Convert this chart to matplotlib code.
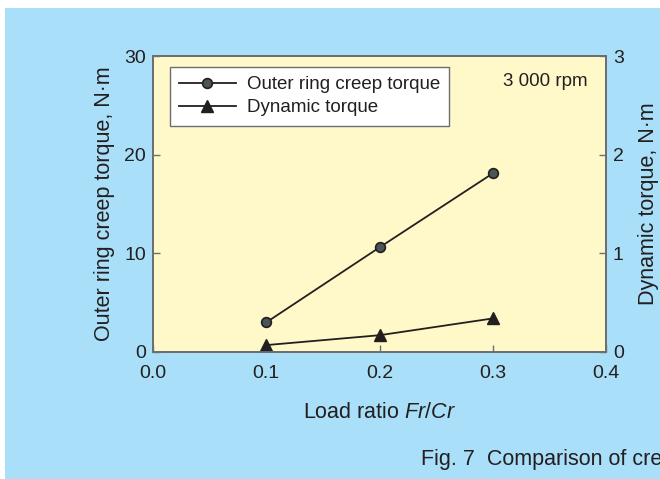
import matplotlib
matplotlib.use('Agg')
import matplotlib.pyplot as plt
from matplotlib.patches import Rectangle

plt.rcParams['font.family'] = ['Liberation Sans', 'DejaVu Sans']
plt.rcParams['mathtext.fontset'] = 'custom'
plt.rcParams['mathtext.rm'] = 'Liberation Sans'
plt.rcParams['mathtext.it'] = 'Liberation Sans:italic'

# Data
load_ratio = [0.1, 0.2, 0.3]
creep_torque = [3.0, 10.6, 18.1]      # N·m, left axis
dynamic_torque = [0.07, 0.17, 0.34]   # N·m, right axis

x_ticks = [0.0, 0.1, 0.2, 0.3, 0.4]
left_ticks = [0, 10, 20, 30]
right_ticks = [0, 1, 2, 3]

BLUE = '#a9dff9'
YELLOW = '#fff9c9'
TEXT = '#231f20'
SPINE = '#6d6e71'

fig = plt.figure(figsize=(6.6, 4.79), dpi=100)
fig.patch.set_facecolor('white')
# blue panel behind the chart (white strip on top and left)
fig.patches.append(Rectangle((5 / 660, 0), 1, 1 - 8 / 479, transform=fig.transFigure,
                             facecolor=BLUE, edgecolor='none', zorder=-10))

ax = fig.add_axes([153 / 660, 127 / 479, 453 / 660, 296 / 479])
ax.set_facecolor(YELLOW)
ax2 = ax.twinx()

l1, = ax.plot(load_ratio, creep_torque, color=TEXT, lw=1.3, marker='o', ms=7,
              mfc='#4b5457', mec=TEXT, mew=1.2, label='Outer ring creep torque')
l2, = ax2.plot(load_ratio, dynamic_torque, color=TEXT, lw=1.3, marker='^', ms=9,
               mfc=TEXT, mec=TEXT, label='Dynamic torque')

ax.set_xlim(0, 0.4)
ax.set_ylim(0, 30)
ax2.set_ylim(0, 3)
ax.set_xticks(x_ticks)
ax.set_xticklabels([f'{v:.1f}' for v in x_ticks])
ax.set_yticks(left_ticks)
ax2.set_yticks(right_ticks)

for a in (ax, ax2):
    for sp in a.spines.values():
        sp.set_color(SPINE)
        sp.set_linewidth(1.3)
    a.tick_params(direction='in', length=5, width=1, color=SPINE,
                  labelsize=14, labelcolor=TEXT)
ax.tick_params(axis='x', pad=9)
ax.tick_params(axis='y', pad=5)
ax2.tick_params(axis='y', pad=5)

ax.set_ylabel('Outer ring creep torque, N·m', fontsize=15.5, color=TEXT, labelpad=7)
ax2.set_ylabel('Dynamic torque, N·m', fontsize=15.5, color=TEXT, labelpad=10)
ax.set_xlabel('Load ratio $\\it{Fr}$/$\\it{Cr}$', fontsize=15.5, color=TEXT, labelpad=15)

leg = ax2.legend([l1, l2], [l1.get_label(), l2.get_label()], loc='upper left',
                 bbox_to_anchor=(0.0375, 0.963), borderaxespad=0, fontsize=13.5,
                 fancybox=False, framealpha=1, edgecolor=SPINE, handlelength=3.0,
                 borderpad=0.5, labelspacing=0.3, handletextpad=0.6)
leg.get_frame().set_linewidth(1.0)
for t in leg.get_texts():
    t.set_color(TEXT)

ax2.text(0.866, 0.915, '3 000 rpm', transform=ax.transAxes, ha='center', va='center',
         fontsize=13.5, color=TEXT)

fig.text(421 / 660, 1 - 459 / 479, 'Fig. 7  Comparison of creep torque',
         ha='left', va='center', fontsize=15.5, color=TEXT)

fig.savefig('out.png', dpi=100)
